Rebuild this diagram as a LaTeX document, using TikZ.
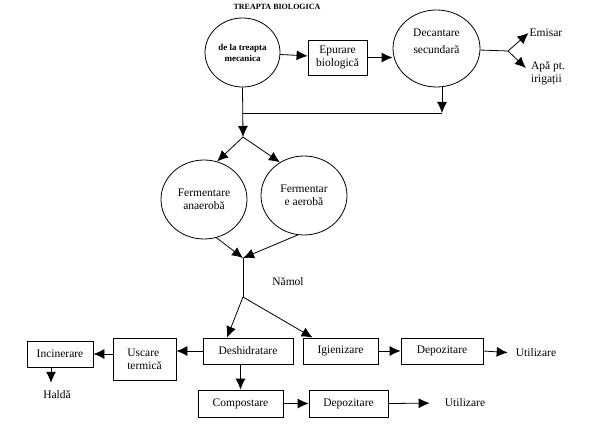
\documentclass[tikz,border=0pt]{standalone}
\usepackage{fontspec}
\setmainfont{Liberation Serif}
\usetikzlibrary{shapes.geometric,arrows.meta}

\begin{document}
\begin{tikzpicture}[x=1pt, y=-1pt,
    every node/.style={font=\fontsize{11.5}{13}\selectfont, inner sep=1pt},
    proc/.style={draw, line width=0.8pt, inner sep=2pt, minimum height=26pt},
    basin/.style={draw, ellipse, line width=0.8pt, align=center, inner sep=0pt},
    flow/.style={line width=0.8pt, -{Latex[length=11pt,width=10pt]}},
    link/.style={line width=0.8pt}]
    \useasboundingbox (0,0) rectangle (591,427);
    \node[font=\bfseries\fontsize{8}{9}\selectfont] (title) at (277,7) {TREAPTA BIOLOGICA};
    \node[basin, minimum width=75pt, minimum height=69pt, font=\bfseries\fontsize{9}{11}\selectfont] (mecan) at (242.5,52.5) {de la treapta\\mecanica};
    \node[proc, minimum width=59pt, minimum height=35pt, align=center] (epur) at (337.5,57.5) {Epurare\\biologică};
    \node[basin, minimum width=87pt, minimum height=77pt, text depth=14pt, font=\fontsize{11.5}{17}\selectfont] (decant) at (436.5,48.5) {Decantare\\secundară};
    \node (emisar) at (546,33) {Emisar};
    \node[align=left] (irig) at (548,73) {Apă pt.\\irigații};
    \coordinate (jE) at (508,51);
    \coordinate (jA) at (243,137);
    \coordinate (jB) at (442,113);
    \node[basin, minimum width=86pt, minimum height=79pt] (anaer) at (204,199.5) {Fermentare\\anaerobă};
    \node[basin, minimum width=86pt, minimum height=79pt] (aer) at (304,195.5) {Fermentar\\e aerobă};
    \coordinate (jC) at (243,258);
    \coordinate (jD) at (243,297);
    \node (namol) at (288,282) {Nămol};
    \node[proc, minimum width=66pt] (incin) at (60,354) {Incinerare};
    \node[proc, minimum width=63pt, minimum height=42pt, align=left] (uscare) at (144.5,359) {Uscare\\termică};
    \node[proc, minimum width=90pt] (desh) at (248,351) {Deshidratare};
    \node[proc, minimum width=75pt] (igien) at (340.5,351) {Igienizare};
    \node[proc, minimum width=82pt] (depoz1) at (442,351) {Depozitare};
    \node[proc, minimum width=85pt, minimum height=27pt] (compost) at (240.5,403.5) {Compostare};
    \node[proc, minimum width=79pt, minimum height=27pt] (depoz2) at (348.5,403.5) {Depozitare};
    \node (halda) at (57,395) {Haldă};
    \node (util1) at (536,353) {Utilizare};
    \node (util2) at (465,403) {Utilizare};

    \draw[flow] (mecan) -- (epur);
    \draw[flow] (epur.east) -- (epur.east -| decant.west);
    \draw[link] (decant) -- (jE);
    \draw[flow] (jE) -- (emisar.west);
    \draw[flow] (jE) -- ([shift={(-4pt,5pt)}]irig.west);
    \draw[flow] (jB |- decant.south) -- (jB);
    \draw[link] (jB) -- (jB -| jA);
    \draw[flow] (mecan.south) -- (jA);
    \draw[flow] (jA) -- (anaer.71);
    \draw[flow] (jA) -- (aer.126);
    \draw[flow] (anaer.-72) -- (jC);
    \draw[flow] (aer.-99) -- (jC);
    \draw[link] (jC) -- (jD);
    \draw[flow] (jD) -- ([xshift=-21pt]desh.north);
    \draw[flow] (jD) -- ([xshift=10pt]igien.north west);
    \draw[flow] (desh.west) -- (desh.west -| uscare.east);
    \draw[flow] (uscare.west |- incin.east) -- (incin.east);
    \draw[flow, shorten >=7pt] ([xshift=-9pt]incin.south) -- ([xshift=-9pt]incin.south |- halda.north);
    \draw[flow] (compost.north |- desh.south) -- (compost.north);
    \draw[flow] (compost.east) -- (depoz2.west);
    \draw[flow, shorten >=14pt] (depoz2.east) -- (util2.west);
    \draw[flow] (igien.east) -- (depoz1.west);
    \draw[flow, shorten >=7pt] (depoz1.east) -- (util1.west);
\end{tikzpicture}
\end{document}
